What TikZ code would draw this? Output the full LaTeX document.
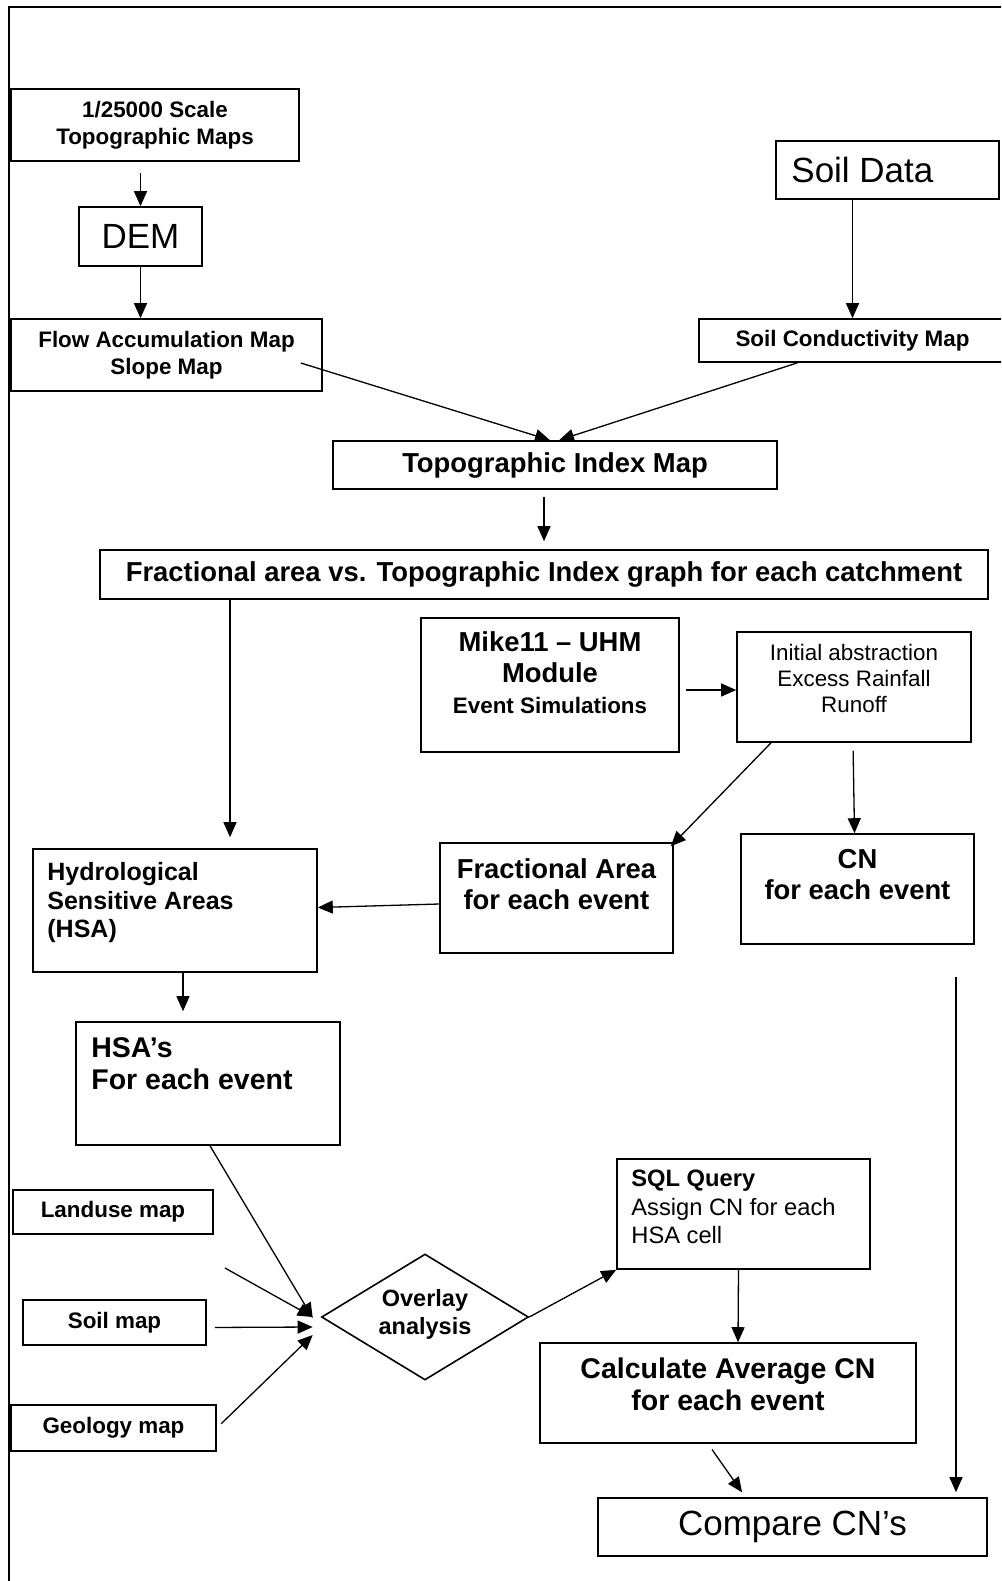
\documentclass[tikz,border=0pt]{standalone}
\usepackage{fontspec}
\setmainfont{Liberation Sans}
\usetikzlibrary{arrows.meta,fit,shapes.geometric}

\begin{document}
\begin{tikzpicture}[x=1pt,y=-1pt,
 bx/.style={draw,line width=1.6pt,inner sep=0pt},
 arr/.style={-{Triangle[length=15pt,width=13pt]},line width=1.3pt},
 frm/.style={draw,line width=2pt},
 tsm/.style={font=\fontsize{22.4pt}{27pt}\selectfont\bfseries},
 tov/.style={font=\fontsize{23.5pt}{28pt}\selectfont\bfseries},
 treg/.style={font=\fontsize{22.4pt}{26pt}\selectfont},
 tmid/.style={font=\fontsize{25pt}{28.5pt}\selectfont\bfseries},
 tsq/.style={font=\fontsize{23.7pt}{28.5pt}\selectfont},
 tlg/.style={font=\fontsize{27.4pt}{31pt}\selectfont\bfseries},
 txl/.style={font=\fontsize{28.5pt}{32pt}\selectfont\bfseries},
 thg/.style={font=\fontsize{35pt}{40pt}\selectfont}]
\useasboundingbox (0,0) rectangle (1001,1581);
\clip (0,0) rectangle (1001,1581);
\draw[frm] (9,7) rectangle (1040,1640);
% top: map inputs
\node[bx,tsm,align=center,minimum width=288pt,minimum height=72pt] (topo) at (155,125) {1/25000 Scale\\Topographic Maps};
\node[bx,thg,minimum width=123pt,minimum height=59pt] (dem) at (140.5,236.5) {DEM};
\node[bx,tsm,align=center,minimum width=311pt,minimum height=72pt] (flow) at (166.5,355) {Flow Accumulation Map\\Slope Map};
\node[bx,fit={(776,141) (999,199)}] (soild) {};
\node[thg,inner sep=0pt,anchor=west] (soildt) at ([xshift=16pt]soild.west) {Soil Data};
\node[bx,tsm,minimum width=307pt,minimum height=43pt] (soilc) at (852.5,340.5) {Soil Conductivity Map};
\node[bx,tlg,minimum width=444pt,minimum height=48pt] (ti) at (555,465) {Topographic Index Map};
\node[bx,tlg,minimum width=888pt,minimum height=49pt] (fvs) at (544,574.5) {Fractional area vs. Topographic Index graph for each catchment};
% middle: event simulations
\node[bx,fit={(421,618) (679,752)}] (mike) {};
\node[tlg,inner sep=0pt,anchor=north,align=center] (miket) at ([yshift=-14pt]mike.north) {Mike11 – UHM\\Module\\{\fontsize{22.4pt}{27pt}\selectfont Event Simulations}};
\node[bx,fit={(737,632) (971,742)}] (init) {};
\node[treg,inner sep=0pt,anchor=north,align=center] (initt) at ([yshift=-13pt]init.north) {Initial abstraction\\Excess Rainfall\\Runoff};
\node[bx,fit={(440,843) (673,953)}] (fa) {};
\node[tlg,inner sep=0pt,anchor=north,align=center] (fat) at ([yshift=-16pt]fa.north) {Fractional Area\\for each event};
\node[bx,fit={(741,834) (974,944)}] (cn) {};
\node[tlg,inner sep=0pt,anchor=north,align=center] (cnt) at ([yshift=-16pt]cn.north) {CN\\for each event};
\node[bx,fit={(33,849) (317,972)}] (hsa) {};
\node[tmid,inner sep=0pt,anchor=north west,align=left] (hsat) at ([xshift=15pt,yshift=-14pt]hsa.north west) {Hydrological\\Sensitive Areas\\(HSA)};
\node[bx,fit={(76,1022) (340,1145)}] (hsas) {};
\node[txl,inner sep=0pt,anchor=north west,align=left] (hsast) at ([xshift=16pt,yshift=-16pt]hsas.north west) {HSA’s\\For each event};
% bottom: overlay and CN
\node[bx,fit={(617,1159) (870,1269)}] (sql) {};
\node[tsq,inner sep=0pt,anchor=north west,align=left] (sqlt) at ([xshift=15pt,yshift=-12pt]sql.north west) {\textbf{SQL Query}\\Assign CN for each\\HSA cell};
\node[bx,tsm,minimum width=200pt,minimum height=44pt] (land) at (113,1212) {Landuse map};
\node[bx,tsm,minimum width=183pt,minimum height=45pt] (soilm) at (114.5,1322.5) {Soil map};
\node[bx,tsm,minimum width=205pt,minimum height=46pt] (geo) at (113.5,1428) {Geology map};
\node[bx,diamond,minimum width=207pt,minimum height=126pt] (ov) at (425,1317) {};
\node[tov,inner sep=0pt,align=center] (ovt) at ([yshift=3pt]ov.center) {Overlay\\analysis};
\node[bx,fit={(540,1343) (916,1443)}] (calc) {};
\node[txl,inner sep=0pt,anchor=north,align=center] (calct) at ([yshift=-15pt]calc.north) {Calculate Average CN\\for each event};
\node[bx,thg,minimum width=389pt,minimum height=58pt] (cmp) at (792.5,1527) {Compare CN’s};
\coordinate (hsain) at ([xshift=55pt]hsa.north);
\coordinate (hsaout) at ([xshift=8pt]hsa.south);
\coordinate (free) at (225,1268);
\coordinate (cnout) at (956,977);
% connectors
\draw[arr,shorten <=11pt] (topo.south -| dem.north) -- (dem.north);
\draw[arr] (dem.south) -- (dem.south |- flow.north);
\draw[arr] ([xshift=-22pt,yshift=-8pt]flow.east) -- ([xshift=-5pt]ti.north);
\draw[arr] ([xshift=-55pt]soilc.south) -- ([xshift=4pt]ti.north);
\draw[arr] (soild.south -| soilc.north) -- (soilc.north);
\draw[arr,shorten <=7pt,shorten >=8pt] (ti.south -| fvs.north) -- (fvs.north);
\draw[arr,shorten >=11pt] (hsain |- fvs.south) -- (hsain);
\draw[arr,shorten <=6pt] ([yshift=-5pt]mike.east) -- ([yshift=-3pt]init.west);
\draw[arr] ([xshift=-83pt]init.south) -- ([xshift=-3pt,yshift=-4pt]fa.north east);
\draw[arr,shorten <=8pt] ([xshift=-1pt]init.south) -- ([xshift=-3pt]cn.north);
\draw[arr] ([yshift=-6pt]fa.west) -- ([yshift=3pt]hsa.east);
\draw[arr,shorten >=10pt] (hsaout) -- (hsaout |- hsas.north);
\draw[arr] ([xshift=2pt]hsas.south) -- ([xshift=-8pt,yshift=-1pt]ov.west);
\draw[arr] (free) -- ([xshift=-8pt]ov.west);
\draw[arr,shorten <=8pt] ([yshift=-5pt]soilm.east) -- ([xshift=-8pt,yshift=-10pt]ov.west);
\draw[arr,shorten <=6pt] (geo.east) -- ([xshift=-8pt,yshift=-18pt]ov.west);
\draw[arr] (ov.east) -- (sql.south west);
\draw[arr] ([xshift=-5pt]sql.south) -- ([xshift=10pt]calc.north);
\draw[arr,shorten <=7pt,shorten >=6pt] ([xshift=-20pt]calc.south) -- ([xshift=-47pt]cmp.north);
\draw[arr,shorten >=5pt] (cnout) -- (cnout |- cmp.north);
\end{tikzpicture}
\end{document}
